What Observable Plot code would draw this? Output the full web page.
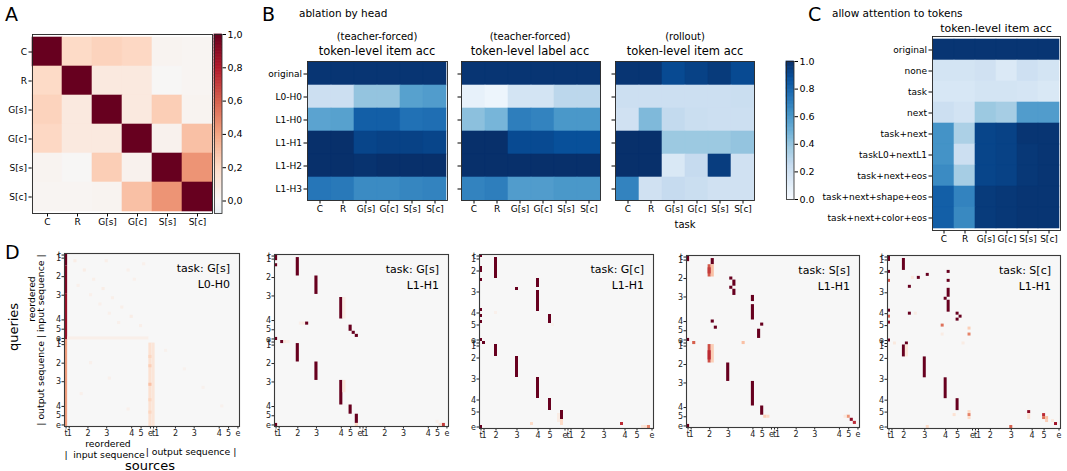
<!DOCTYPE html>
<html><head><meta charset="utf-8">
<script src="https://cdn.jsdelivr.net/npm/d3@7"></script>
<script src="https://cdn.jsdelivr.net/npm/@observablehq/plot@0.6"></script>
<style>
body{margin:0;background:#fff;}
#fig{position:relative;width:1067px;height:471px;overflow:hidden;font-family:"DejaVu Sans",sans-serif;color:#000;background:#fff;}
.t{position:absolute;white-space:nowrap;line-height:1;}
</style></head><body><div id="fig"></div><script>
// ---------- data ----------
const tasks = ["C","R","G[s]","G[c]","S[s]","S[c]"];
const corrA = [
  [1.00,0.20,0.23,0.21,0.03,0.02],
  [0.20,1.00,0.10,0.10,0.01,0.02],
  [0.23,0.10,1.00,0.10,0.25,0.03],
  [0.21,0.10,0.10,1.00,0.04,0.30],
  [0.03,0.01,0.25,0.04,1.00,0.45],
  [0.02,0.02,0.03,0.30,0.45,1.00]
];
const heads = ["original","L0-H0","L1-H0","L1-H1","L1-H2","L1-H3"];
const itemAccTF = [
  [0.98,0.98,0.98,0.98,0.98,0.98],
  [0.22,0.22,0.40,0.40,0.56,0.58],
  [0.55,0.56,0.82,0.82,0.75,0.76],
  [1.00,1.00,0.92,0.93,0.93,0.92],
  [1.00,1.00,0.99,1.00,1.00,1.00],
  [0.73,0.72,0.65,0.65,0.67,0.68]
];
const labelAccTF = [
  [0.98,0.98,0.98,0.98,0.98,0.98],
  [0.08,0.05,0.18,0.18,0.28,0.28],
  [0.42,0.47,0.70,0.68,0.60,0.60],
  [1.00,1.00,0.90,0.90,0.88,0.88],
  [1.00,1.00,1.00,1.00,1.00,1.00],
  [0.68,0.70,0.58,0.58,0.60,0.60]
];
const itemAccRollout = [
  [0.98,0.98,0.90,0.93,0.96,0.90],
  [0.22,0.22,0.22,0.22,0.22,0.23],
  [0.20,0.45,0.26,0.23,0.22,0.22],
  [1.00,1.00,0.38,0.38,0.38,0.40],
  [1.00,1.00,0.15,0.25,0.95,0.20],
  [0.68,0.20,0.25,0.23,0.20,0.20]
];
const allowRows = ["original","none","task","next","task+next","taskL0+nextL1","task+next+eos","task+next+shape+eos","task+next+color+eos"];
const allowAcc = [
  [0.98,0.98,0.98,0.98,0.98,0.98],
  [0.18,0.18,0.20,0.14,0.21,0.18],
  [0.16,0.16,0.18,0.18,0.17,0.15],
  [0.22,0.19,0.38,0.35,0.58,0.58],
  [0.62,0.33,0.92,0.93,0.98,0.98],
  [0.62,0.22,0.92,0.93,0.97,0.98],
  [0.65,0.35,0.92,0.93,0.97,0.98],
  [0.82,0.68,0.96,0.97,0.98,0.98],
  [0.82,0.66,0.96,0.97,0.98,0.98]
];
// attention maps: token layout (tick token indices) and cells
// [sourceCol, queryRowStart, queryRowEnd, weight, (optional) sourceColEnd]
const tokLabels = ["t","1","2","3","4","5","e","t","1","2","3","4","5","e"];
const nTokS = 56;
const ticksS = [0,1,7,13,21,24,27,28,29,35,41,49,52,55];
const nTokC = 58;
const ticksC = [0,1,5,12,19,23,28,29,30,34,41,48,52,57];
const attnGsL0H0 = [
  [0,0,3,1],[0,4,12,0.94],[0,13,27,0.87],[0,28,55,0.42],
  [27,29,55,0.16],[28,29,55,0.13],[27,33,33,0.22],[27,36,36,0.25],[27,42,42,0.3],[27,47,47,0.22],[27,51,51,0.22],
  [1,27,27,0.06,26],
  [3,2,2,0.07],[6,5,5,0.07],[9,8,8,0.06],[12,11,11,0.07],[15,14,14,0.06],[18,17,17,0.06],
  [21,20,20,0.07],[24,23,23,0.06],[20,5,5,0.05],[22,8,8,0.05],[25,3,3,0.05],[13,2,2,0.06],
  [8,13,13,0.05],[11,16,16,0.05],[14,19,19,0.05],[17,22,22,0.05],[4,10,10,0.05],
  [32,31,31,0.04],[38,37,37,0.04],[44,43,43,0.04],[50,49,49,0.04],
  [8,35,35,0.05],[14,40,40,0.05],[5,45,45,0.05],[20,50,50,0.05]
];
const attnGsL1H1 = [
  [0,0,1,1],[0,3,3,1],
  [7,1,6,1],[13,7,12,1],[21,14,20,1],[22,14,20,0.08],
  [10,22,22,1],[8,22,22,0.06],[9,22,22,0.08],
  [24,23,24,1],[25,25,25,1],[26,26,26,1],[0,27,27,1],
  [2,28,28,1],[3,28,28,0.1],[4,28,28,0.06],
  [7,29,34,1],[13,35,40,1],[21,41,48,1],[22,41,44,0.12],
  [24,49,51,1],[26,52,54,1],[26,55,55,0.2],
  [0,55,55,1],[54,55,55,0.7],[53,55,55,0.12],[52,54,54,0.06]
];
const attnGcL1H1 = [
  [0,0,0,1],[0,4,5,1],[0,8,8,1],[0,18,18,1],[0,20,20,1],[0,22,22,1],[0,28,28,1],
  [1,29,29,1],
  [5,1,7,1],[12,11,11,1],[19,8,10,1],[19,12,18,1],[23,20,22,1],[5,19,19,0.05],[24,23,23,0.04],
  [5,30,33,1],[12,34,40,1],[19,41,47,1],[23,48,51,1],[27,52,54,1],[27,55,56,0.2],[26,53,55,0.08],
  [17,56,56,0.2],[47,56,56,0.75],[56,57,57,0.5],[55,57,57,0.15],[54,57,57,0.12],[0,57,57,1]
];
const attnSsL1H1 = [
  [0,0,1,1],[8,1,2,1],[7,3,6,0.62],[8,3,6,0.3],[7,4,5,0.7],
  [14,7,7,1],[15,8,9,1],[14,10,10,1],[15,11,12,1],
  [21,13,14,1],[21,16,20,1],
  [8,21,21,1],[24,22,22,1],[9,23,23,1],[23,24,26,1],[0,27,27,1],
  [2,28,28,0.6],[18,28,28,0.3],
  [7,29,34,0.65],[8,29,34,0.25],[7,31,33,0.75],
  [13,35,40,1],[21,41,48,1],[24,49,51,1],[25,52,52,0.25],[26,52,52,0.2],
  [52,52,52,0.45],[53,53,53,0.9],[54,54,54,0.75],[51,52,52,0.1],[0,55,55,1]
];
const attnScL1H1 = [
  [0,0,1,1],[5,1,4,1],[0,5,5,1],[13,6,6,1],[10,7,7,1],[8,7,7,0.1],[0,8,8,0.65],[20,5,5,1],[20,8,8,1],
  [7,10,10,1],[20,11,13,1],[19,14,14,1],[20,15,18,1],[0,18,18,1],
  [7,19,19,1],[9,19,19,0.08],[23,19,19,1],[0,20,20,0.6],[24,20,20,1],[23,21,21,1],[0,22,22,0.9],
  [18,23,23,0.55],[18,26,26,0.08],[27,24,24,0.25],[27,26,26,0.5],[25,29,29,0.08],
  [0,28,28,1],[2,29,29,0.1],[6,29,29,1],
  [5,30,33,1],[6,30,33,0.12],[12,34,40,1],[19,41,47,1],[23,48,51,1],
  [22,53,53,0.15],[27,52,52,0.2],[27,53,53,0.5],[27,54,54,0.2],
  [47,52,52,0.9],[47,53,54,0.15],[52,53,53,0.75],[52,54,54,0.55],[53,54,54,0.3],[53,55,55,0.25],
  [55,55,55,0.1],[56,56,56,0.85],[41,57,57,0.6],[13,57,57,0.2]
];

// ---------- colour maps (matplotlib-style piecewise linear) ----------
const rdbuStops = ["#053061","#2166ac","#4393c3","#92c5de","#d1e5f0","#f7f7f7","#fddbc7","#f4a582","#d6604d","#b2182b","#67001f"];
const bluesStops = ["#f7fbff","#deebf7","#c6dbef","#9ecae1","#6baed6","#4292c6","#2171b5","#08519c","#08306b"];
const rdbuInterp = d3.piecewise(d3.interpolateRgb, rdbuStops);
const bluesInterp = d3.piecewise(d3.interpolateRgb, bluesStops);
const rdbu = {type: "linear", domain: [-1, 1], interpolate: rdbuInterp, clamp: true};
const blues = {type: "linear", domain: [0, 1], interpolate: bluesInterp, clamp: true};

// ---------- helpers ----------
const fig = document.getElementById("fig");
const FONT = "'DejaVu Sans', sans-serif";
const base = {fontFamily: FONT, color: "#000", background: "transparent", overflow: "visible"};
function put(svg, x, y) {
  svg.style.position = "absolute"; svg.style.left = x + "px"; svg.style.top = y + "px";
  svg.style.maxWidth = "none";
  fig.appendChild(svg);
}
function txt(s, x, y, {size = 10, anchor = "start", rot = 0, color = "#000"} = {}) {
  const d = document.createElement("div");
  d.className = "t"; d.textContent = s;
  d.style.left = x + "px"; d.style.top = y + "px"; d.style.fontSize = size + "px"; d.style.color = color;
  const tx = anchor === "middle" ? "-50%" : anchor === "end" ? "-100%" : "0";
  d.style.transform = `translate(${tx},-50%)` + (rot ? ` rotate(${rot}deg)` : "");
  fig.appendChild(d);
}
function heatmap({rows, cols, matrix, color, L, T, W, H, mL, showY = true, fontSize = 9}) {
  const data = matrix.flatMap((r, i) => r.map((v, j) => ({r: rows[i], c: cols[j], v})));
  const mT = 3, mR = 3, mB = 20;
  const svg = Plot.plot({
    width: W + mL + mR, height: H + mT + mB,
    marginLeft: mL, marginRight: mR, marginTop: mT, marginBottom: mB,
    style: {...base, fontSize: fontSize + "px"},
    x: {domain: cols, padding: 0, label: null, tickSize: 3.5, tickPadding: 2},
    y: {domain: rows, padding: 0, label: null, tickSize: 3.5, tickPadding: 2, ...(showY ? {} : {tickFormat: () => ""})},
    color,
    marks: [
      Plot.cell(data, {x: "c", y: "r", fill: "v", stroke: "v", strokeWidth: 0.6, inset: 0}),
      Plot.frame({stroke: "#222", strokeWidth: 0.9})
    ]
  });
  put(svg, L - mL, T - mT);
}
function colorbar({color, domain, L, T, W, H, ticks, fmt}) {
  const n = 120, step = (domain[1] - domain[0]) / n;
  const stops = d3.range(n).map(i => domain[0] + i * step);
  const mT = 6, mR = 34, mB = 6, mL = 2;
  const svg = Plot.plot({
    width: W + mL + mR, height: H + mT + mB,
    marginLeft: mL, marginRight: mR, marginTop: mT, marginBottom: mB,
    style: {...base, fontSize: "9.5px"},
    x: {domain: [0, 1], axis: null},
    y: {domain, axis: "right", ticks, tickFormat: fmt, tickSize: 3.5, tickPadding: 2, label: null},
    color,
    marks: [
      Plot.rect(stops, {x1: () => 0, x2: () => 1, y1: d => d, y2: d => Math.min(domain[1], d + step),
        fill: d => d + step / 2, stroke: d => d + step / 2, strokeWidth: 0.8}),
      Plot.frame({stroke: "#222", strokeWidth: 0.8})
    ]
  });
  put(svg, L - mL, T - mT);
}
function attnMap({cells, N, ticks, L, T, W, H, task, head}) {
  const pos = ticks.map(p => p + 0.5);
  const lab = new Map(pos.map((p, i) => [p, tokLabels[i]]));
  const mL = 14, mT = 4, mR = 6, mB = 14;
  const svg = Plot.plot({
    width: W + mL + mR, height: H + mT + mB,
    marginLeft: mL, marginRight: mR, marginTop: mT, marginBottom: mB,
    style: {...base, fontSize: "8px", color: "#222"},
    x: {domain: [0, N], ticks: pos, tickFormat: d => lab.get(d) ?? "", tickSize: 2.5, tickPadding: 1, label: null},
    y: {domain: [0, N], reverse: true, ticks: pos, tickFormat: d => lab.get(d) ?? "", tickSize: 2.5, tickPadding: 1, label: null},
    color: rdbu,
    marks: [
      Plot.frame({fill: rdbuInterp(0.5), stroke: "none"}),
      Plot.rect(cells, {x1: d => d[0], x2: d => (d[4] ?? d[0]) + 1, y1: d => d[1], y2: d => d[2] + 1, fill: d => d[3]}),
      Plot.frame({stroke: "#3a3a3a", strokeWidth: 1.1})
    ]
  });
  put(svg, L - mL, T - mT);
  txt("task: " + task, L + W - 9, T + 15, {size: 11, anchor: "end"});
  txt(head, L + W - 9, T + 31, {size: 11, anchor: "end"});
}

// ---------- panel A ----------
txt("A", 5, 14, {size: 19});
heatmap({rows: tasks, cols: tasks, matrix: corrA, color: rdbu, L: 32, T: 34, W: 180, H: 179, mL: 32});
colorbar({color: rdbu, domain: [-0.075, 1], L: 214, T: 34, W: 7.5, H: 179,
  ticks: [0, 0.2, 0.4, 0.6, 0.8, 1], fmt: d => d.toFixed(1).replace(".", ",")});

// ---------- panel B ----------
txt("B", 262, 14, {size: 19});
txt("ablation by head", 299, 12.5, {size: 10.5});
heatmap({rows: heads, cols: tasks, matrix: itemAccTF, color: blues, L: 307, T: 61, W: 140, H: 139, mL: 60});
heatmap({rows: heads, cols: tasks, matrix: labelAccTF, color: blues, L: 461, T: 61, W: 139, H: 139, mL: 8, showY: false});
heatmap({rows: heads, cols: tasks, matrix: itemAccRollout, color: blues, L: 615, T: 61, W: 139, H: 139, mL: 8, showY: false});
colorbar({color: blues, domain: [0, 1], L: 786, T: 61, W: 7.5, H: 138,
  ticks: [0, 0.2, 0.4, 0.6, 0.8, 1], fmt: d => d.toFixed(1)});
txt("(teacher-forced)", 377, 37, {size: 10, anchor: "middle"});
txt("token-level item acc", 377, 52, {size: 11.5, anchor: "middle"});
txt("(teacher-forced)", 530, 37, {size: 10, anchor: "middle"});
txt("token-level label acc", 530, 52, {size: 11.5, anchor: "middle"});
txt("(rollout)", 685, 37, {size: 10, anchor: "middle"});
txt("token-level item acc", 685, 52, {size: 11.5, anchor: "middle"});
txt("task", 685, 225, {size: 10, anchor: "middle"});

// ---------- panel C ----------
txt("C", 808, 14, {size: 19});
txt("allow attention to tokens", 832, 12.5, {size: 10.5});
txt("token-level item acc", 996, 28, {size: 11, anchor: "middle"});
heatmap({rows: allowRows, cols: tasks, matrix: allowAcc, color: blues, L: 932, T: 36, W: 128, H: 194, mL: 130});

// ---------- panel D ----------
txt("D", 5, 252, {size: 19});
attnMap({cells: attnGsL0H0, N: nTokS, ticks: ticksS, L: 64, T: 253, W: 175, H: 173, task: "G[s]", head: "L0-H0"});
attnMap({cells: attnGsL1H1, N: nTokS, ticks: ticksS, L: 274, T: 254, W: 174, H: 172, task: "G[s]", head: "L1-H1"});
attnMap({cells: attnGcL1H1, N: nTokC, ticks: ticksC, L: 479, T: 254, W: 174, H: 174, task: "G[c]", head: "L1-H1"});
attnMap({cells: attnSsL1H1, N: nTokS, ticks: ticksS, L: 686, T: 255, W: 173, H: 172, task: "S[s]", head: "L1-H1"});
attnMap({cells: attnScL1H1, N: nTokC, ticks: ticksC, L: 887, T: 255, W: 173, H: 173, task: "S[c]", head: "L1-H1"});
txt("queries", 13, 327, {size: 13, anchor: "middle", rot: -90});
txt("reordered", 32, 299, {size: 9.3, anchor: "middle", rot: -90});
txt("| output sequence | input sequence |", 41, 340, {size: 9.3, anchor: "middle", rot: -90});
txt("reordered", 108, 444, {size: 9.3, anchor: "middle"});
txt("|", 66, 455, {size: 9.3, anchor: "middle"});
txt("input sequence", 109, 455, {size: 9.3, anchor: "middle"});
txt("| output sequence |", 191, 452, {size: 9.3, anchor: "middle"});
txt("sources", 150, 465, {size: 13, anchor: "middle"});
</script></body></html>
